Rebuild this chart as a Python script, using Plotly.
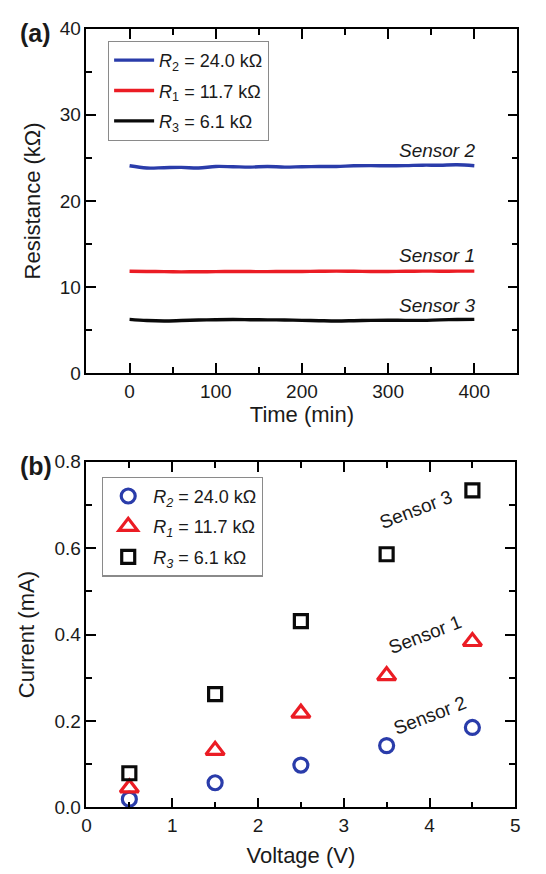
import plotly.graph_objects as go

# ---------------- data ----------------
time_min = [0, 20, 40, 60, 80, 100, 120, 140, 160, 180, 200, 220, 240, 260, 280, 300, 320, 340, 360, 380, 400]
r2_kohm = [24.08, 23.82, 23.86, 23.9, 23.82, 24.0, 23.97, 23.93, 24.0, 23.93, 23.97, 24.0, 24.0, 24.08, 24.1, 24.08, 24.1, 24.15, 24.15, 24.2, 24.08]
r1_kohm = [11.82, 11.8, 11.78, 11.76, 11.77, 11.78, 11.8, 11.79, 11.78, 11.8, 11.8, 11.82, 11.84, 11.82, 11.8, 11.8, 11.82, 11.84, 11.83, 11.84, 11.84]
r3_kohm = [6.24, 6.1, 6.05, 6.1, 6.16, 6.2, 6.22, 6.2, 6.18, 6.16, 6.12, 6.08, 6.05, 6.08, 6.12, 6.14, 6.12, 6.12, 6.18, 6.22, 6.24]

voltage_v = [0.5, 1.5, 2.5, 3.5, 4.5]
i_sensor2 = [0.019, 0.057, 0.098, 0.143, 0.185]
i_sensor1 = [0.045, 0.132, 0.218, 0.305, 0.384]
i_sensor3 = [0.079, 0.262, 0.431, 0.586, 0.734]

labels_top = ["<i>R</i><sub>2</sub> = 24.0 kΩ", "<i>R</i><sub>1</sub> = 11.7 kΩ", "<i>R</i><sub>3</sub> = 6.1 kΩ"]
labels_bot = ["<i>R</i><sub><i>2</i></sub> = 24.0 kΩ", "<i>R</i><sub><i>1</i></sub> = 11.7 kΩ", "<i>R</i><sub><i>3</i></sub> = 6.1 kΩ"]

BLUE = "rgb(42,60,170)"
RED = "rgb(235,28,36)"
BLACK = "rgb(10,10,10)"
FONT = "Liberation Sans, Arial, sans-serif"
TXT = "#1a1a1a"

fig = go.Figure()

# top panel lines
for y, name, col, g in [(r2_kohm, labels_top[0], BLUE, "a"), (r1_kohm, labels_top[1], RED, "b"), (r3_kohm, labels_top[2], BLACK, "c")]:
    fig.add_trace(go.Scatter(x=time_min, y=y, mode="lines", name=name,
                             line=dict(color=col, width=3.4, shape="spline"),
                             xaxis="x", yaxis="y", legend="legend", legendgroup=g))

# bottom panel markers
for y, name, col, sym, sz, g in [(i_sensor2, labels_bot[0], BLUE, "circle-open", 14, "d"),
                                 (i_sensor1, labels_bot[1], RED, "triangle-up-open", 16, "e"),
                                 (i_sensor3, labels_bot[2], BLACK, "square-open", 13, "f")]:
    fig.add_trace(go.Scatter(x=voltage_v, y=y, mode="markers", name=name,
                             marker=dict(symbol=sym, size=sz, color=col, line=dict(color=col, width=3.2)),
                             xaxis="x2", yaxis="y2", legend="legend2", legendgroup=g))

axis_common = dict(showline=True, linecolor="black", linewidth=1.6, mirror="ticks",
                   ticks="inside", ticklen=10, tickwidth=1.6, tickcolor="black",
                   showgrid=False, zeroline=False,
                   tickfont=dict(family=FONT, size=19, color=TXT),
                   title_font=dict(family=FONT, size=22, color=TXT))
minor_common = dict(ticks="inside", ticklen=6, tickwidth=1.6, tickcolor="black")

fig.update_layout(
    width=546, height=874,
    margin=dict(l=0, r=0, t=0, b=0),
    paper_bgcolor="white", plot_bgcolor="white",
    font=dict(family=FONT, color=TXT),
    xaxis=dict(domain=[0.152, 0.956], anchor="y", range=[-50, 450], tickvals=[0, 100, 200, 300, 400],
               minor=dict(tickvals=[50, 150, 250, 350], **minor_common),
               title=dict(text="Time (min)", standoff=6), **axis_common),
    yaxis=dict(domain=[0.5744, 0.978], anchor="x", range=[0, 40], tickvals=[0, 10, 20, 30, 40],
               minor=dict(tickvals=[5, 15, 25, 35], **minor_common),
               title=dict(text="Resistance (kΩ)", standoff=13), **axis_common),
    xaxis2=dict(domain=[0.152, 0.952], anchor="y2", range=[0, 5], tickvals=[0, 1, 2, 3, 4, 5],
                minor=dict(tickvals=[0.5, 1.5, 2.5, 3.5, 4.5], **minor_common),
                title=dict(text="Voltage (V)", standoff=13), **axis_common),
    yaxis2=dict(domain=[0.0652, 0.4703], anchor="x2", range=[0, 0.8], tickvals=[0, 0.2, 0.4, 0.6, 0.8],
                tickformat=".1f",
                minor=dict(tickvals=[0.1, 0.3, 0.5, 0.7], **minor_common),
                title=dict(text="Current (mA)", standoff=14), **axis_common),
    legend=dict(x=0.192, y=0.964, xanchor="left", yanchor="top",
                bgcolor="white", bordercolor="#8a8a8a", borderwidth=1.2,
                font=dict(family=FONT, size=18, color=TXT), tracegroupgap=4, itemwidth=40),
    legend2=dict(x=0.181, y=0.453, xanchor="left", yanchor="top",
                 bgcolor="white", bordercolor="#8a8a8a", borderwidth=1.2,
                 font=dict(family=FONT, size=18, color=TXT), tracegroupgap=4, itemwidth=40),
)

# sensor labels top panel
for txt, yv in [("Sensor 2", 25.9), ("Sensor 1", 13.6), ("Sensor 3", 7.9)]:
    fig.add_annotation(x=403, y=yv, xref="x", yref="y", text="<i>" + txt + "</i>", showarrow=False,
                       xanchor="right", yanchor="middle", font=dict(family=FONT, size=19, color=TXT))

# sensor labels bottom panel (rotated)
for txt, xv, yv in [("Sensor 3", 3.84, 0.689), ("Sensor 1", 3.95, 0.40), ("Sensor 2", 4.0, 0.212)]:
    fig.add_annotation(x=xv, y=yv, xref="x2", yref="y2", text=txt, showarrow=False, textangle=-21,
                       xanchor="center", yanchor="middle", font=dict(family=FONT, size=19, color=TXT))

# panel labels
fig.add_annotation(x=0.025, y=1 - 24 / 874, xref="paper", yref="paper", text="<b>(a)</b>", showarrow=False,
                   xanchor="left", yanchor="middle", font=dict(family=FONT, size=25, color=TXT))
fig.add_annotation(x=0.025, y=1 - 467 / 874, xref="paper", yref="paper", text="<b>(b)</b>", showarrow=False,
                   xanchor="left", yanchor="middle", font=dict(family=FONT, size=25, color=TXT))

fig.write_html("out.html")
